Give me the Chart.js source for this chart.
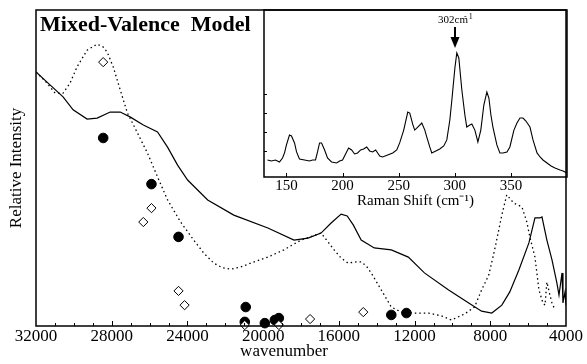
<!DOCTYPE html>
<html>
<head>
<meta charset="utf-8">
<script src="https://cdn.jsdelivr.net/npm/chart.js@4.4.0/dist/chart.umd.min.js"></script>
<style>
html, body { margin: 0; padding: 0; background: #fff; }
#wrap { position: relative; width: 587px; height: 364px; }
#main { position: absolute; left: 0; top: 0; }
#inset { position: absolute; left: 250px; top: 0; }
</style>
</head>
<body>
<div id="wrap">
  <canvas id="main" width="587" height="364"></canvas>
  <canvas id="inset" width="337" height="210"></canvas>
</div>
<script>
// main spectrum: solid (experimental) and dotted (calculated) curves
let solidWave = [32000, 31260, 30570, 30040, 29300, 28770, 28080, 27550, 27010, 26330, 25580, 25050, 24520, 23990,
    22930, 21550, 19750, 18370, 17630, 16940, 16410, 15880, 15560, 15240, 14820, 14130, 13230, 12330, 11480,
    10200, 9140, 8460, 7920, 7390, 6970, 6490, 5960, 5640, 5380, 5270, 5010, 4740, 4480, 4370, 4210, 4160, 4050, 4000];
let solidInt = [80.4, 76.3, 72.5, 68.4, 65.5, 65.8, 67.7, 67.7, 66.1, 63.6, 61.4, 56.6, 50.9, 46.2,
    39.9, 35.1, 31.0, 27.2, 27.8, 29.4, 32.6, 35.4, 34.8, 32.0, 27.2, 24.7, 24.1, 21.8, 16.8,
    11.4, 7.3, 4.7, 4.1, 6.6, 10.8, 17.7, 26.3, 34.2, 34.2, 34.5, 27.2, 20.9, 13.6, 9.8, 16.8, 7.3, 10.8, 6.6];

let dotWave = [32000, 31420, 30990, 30570, 30200, 29830, 29300, 28770, 28450, 28240, 27920, 27550, 27170, 26640,
    26110, 25580, 25050, 24360, 23670, 23140, 22610, 22140, 21710, 21180, 20650, 19750, 18900, 18000, 16940,
    16570, 16250, 15880, 15510, 15080, 14820, 14550, 14290, 13760, 13230, 12700, 12010, 11270, 10580, 10050,
    9360, 8830, 8460, 8080, 7770, 7390, 7130, 6760, 6330, 6070, 5910, 5640, 5430, 5220, 5110, 5010, 4850, 4740, 4580];
let dotInt = [80.4, 76.9, 73.7, 73.7, 76.9, 82.0, 87.3, 89.2, 88.3, 86.7, 82.0, 74.7, 67.4, 61.1,
    54.7, 47.2, 39.9, 32.9, 27.2, 23.1, 19.9, 18.4, 18.0, 18.7, 19.9, 21.8, 24.1, 27.2, 29.4,
    26.6, 24.1, 21.5, 19.9, 20.3, 20.3, 19.0, 16.8, 11.4, 6.0, 4.4, 4.1, 4.1, 3.2, 1.9,
    3.8, 6.0, 11.4, 16.1, 24.1, 35.1, 41.5, 38.9, 37.7, 32.9, 28.2, 21.8, 11.4, 7.3, 6.6, 13.9, 9.8, 7.3, 5.1];

// filled circles and open diamonds
let fillWave = [28450, 25900, 24470, 20920, 20970, 19910, 19380, 19170, 13230, 12430];
let fillInt = [59.5, 44.9, 28.2, 6.0, 1.3, 0.9, 1.9, 2.5, 3.5, 4.1];
let openWave = [28450, 25900, 26330, 24470, 24150, 20970, 19170, 17520, 14710];
let openInt = [83.5, 37.3, 32.9, 11.1, 6.6, 0.3, 0.3, 2.2, 4.4];

let waveTicks = [32000, 28000, 24000, 20000, 16000, 12000, 8000, 4000];

// inset: Raman spectrum
let ramanShift = [133.1, 136.6, 140.2, 143.8, 146.5, 148.3, 150.0, 152.7, 154.5, 157.2, 159.0, 161.6, 166.1, 170.6,
    173.3, 175.9, 177.7, 179.5, 181.3, 184.0, 186.6, 190.2, 194.7, 197.4, 200.0, 202.7, 205.4, 208.1, 210.7,
    213.4, 216.1, 218.8, 221.5, 224.1, 226.8, 229.5, 233.1, 235.7, 240.2, 244.7, 248.3, 250.9, 254.5, 258.1,
    259.9, 262.5, 264.3, 267.0, 270.6, 273.3, 275.0, 277.7, 279.5, 283.1, 286.6, 290.2, 292.9, 295.6, 297.4,
    300.1, 301.8, 303.6, 306.3, 309.0, 310.7, 313.4, 315.2, 317.9, 320.6, 323.2, 325.9, 328.6, 330.4, 332.2,
    334.0, 337.5, 340.2, 342.9, 346.5, 349.1, 352.7, 355.4, 358.1, 360.8, 363.4, 367.0, 369.7, 373.3, 376.0,
    378.6, 382.2, 385.8, 389.3, 393.8, 396.5, 400.0];
let ramanInt = [10.2, 9.6, 10.2, 9.0, 11.4, 14.4, 19.2, 25.1, 24.6, 20.4, 15.0, 10.8, 10.2, 9.6,
    10.2, 10.2, 15.0, 20.4, 20.4, 16.2, 11.4, 9.0, 8.4, 9.6, 10.2, 13.8, 17.4, 16.2, 13.8,
    14.4, 16.2, 16.8, 18.0, 15.6, 15.0, 16.2, 12.6, 12.0, 13.2, 14.4, 16.2, 20.4, 28.1, 38.9,
    38.3, 31.7, 28.1, 29.9, 32.3, 28.1, 24.0, 18.0, 14.4, 15.6, 16.8, 18.6, 22.2, 34.1, 46.1,
    65.3, 74.3, 71.3, 52.1, 37.1, 29.9, 31.1, 31.7, 28.1, 21.0, 28.1, 43.1, 50.9, 47.3, 37.1,
    29.9, 19.2, 14.4, 14.4, 15.0, 18.0, 28.1, 32.3, 35.3, 35.3, 33.5, 29.9, 22.2, 14.4, 12.0,
    10.2, 8.4, 6.6, 5.4, 4.2, 3.6, 2.4];
let ramanTicks = [150, 200, 250, 300, 350];
let ramanYTicks = [15.6, 27, 38.3, 49.7];
let peakShift = 302;

const serif = "'Liberation Serif', 'Times New Roman', serif";

function pts(xs, ys) {
    return xs.map((x, i) => ({x: x, y: ys[i]}));
}

// box around the plot, inward ticks and the free texts
const mainDecor = {
    id: 'mainDecor',
    afterDraw(chart) {
        const ctx = chart.ctx, a = chart.chartArea, xs = chart.scales.x;
        ctx.save();
        ctx.strokeStyle = '#000';
        ctx.lineWidth = 1.5;
        ctx.strokeRect(a.left, a.top, a.right - a.left, a.bottom - a.top);
        ctx.lineWidth = 1;
        for (let w = 5000; w < 32000; w += 1000) {
            let px = Math.round(xs.getPixelForValue(w)) + 0.5;
            let len = (w % 4000 === 0) ? 5 : 3;
            ctx.beginPath();
            ctx.moveTo(px, a.bottom);
            ctx.lineTo(px, a.bottom - len);
            ctx.stroke();
        }
        ctx.fillStyle = '#000';
        ctx.font = "bold 22px " + serif;
        ctx.textAlign = 'left';
        ctx.textBaseline = 'alphabetic';
        ctx.fillText('Mixed-Valence  Model', a.left + 4, a.top + 21);
        ctx.font = "17px " + serif;
        ctx.textAlign = 'center';
        ctx.fillText('wavenumber', (a.left + a.right) / 2 - 17, 356);
        ctx.restore();
    }
};

const insetDecor = {
    id: 'insetDecor',
    afterDraw(chart) {
        const ctx = chart.ctx, a = chart.chartArea, xs = chart.scales.x, ys = chart.scales.y;
        ctx.save();
        ctx.strokeStyle = '#000';
        ctx.lineWidth = 1.5;
        ctx.strokeRect(a.left, a.top, a.right - a.left, a.bottom - a.top);
        ctx.lineWidth = 1;
        ramanTicks.forEach(v => {
            let px = Math.round(xs.getPixelForValue(v)) + 0.5;
            ctx.beginPath();
            ctx.moveTo(px, a.bottom);
            ctx.lineTo(px, a.bottom - 4);
            ctx.stroke();
        });
        ramanYTicks.forEach(v => {
            let py = Math.round(ys.getPixelForValue(v)) + 0.5;
            ctx.beginPath();
            ctx.moveTo(a.left, py);
            ctx.lineTo(a.left + 3, py);
            ctx.stroke();
        });
        // arrow pointing at the 302 cm-1 band
        let px = xs.getPixelForValue(peakShift) - 2;
        ctx.lineWidth = 2;
        ctx.beginPath();
        ctx.moveTo(px, a.top + 17);
        ctx.lineTo(px, a.top + 28);
        ctx.stroke();
        ctx.fillStyle = '#000';
        ctx.beginPath();
        ctx.moveTo(px - 4.5, a.top + 27);
        ctx.lineTo(px + 4.5, a.top + 27);
        ctx.lineTo(px, a.top + 38);
        ctx.closePath();
        ctx.fill();
        ctx.font = "11px " + serif;
        ctx.textAlign = 'left';
        ctx.textBaseline = 'alphabetic';
        ctx.fillText('302cm', px - 17, a.top + 13);
        ctx.font = "8px " + serif;
        ctx.fillText('- 1', px + 9, a.top + 9);
        ctx.restore();
    }
};

new Chart(document.getElementById('main'), {
    type: 'scatter',
    data: {
        datasets: [{
            type: 'line',
            data: pts(solidWave, solidInt),
            borderColor: '#000',
            borderWidth: 1.2,
            pointRadius: 0,
            fill: false,
            tension: 0,
            order: 2,
        }, {
            type: 'line',
            data: pts(dotWave, dotInt),
            borderColor: '#000',
            borderWidth: 1.3,
            borderDash: [1.5, 3],
            pointRadius: 0,
            fill: false,
            tension: 0,
            order: 2,
        }, {
            data: pts(fillWave, fillInt),
            pointStyle: 'circle',
            pointRadius: 4.8,
            backgroundColor: '#000',
            borderColor: '#000',
            borderWidth: 1,
            clip: false,
            order: 1,
        }, {
            data: pts(openWave, openInt),
            pointStyle: 'rectRot',
            pointRadius: 4.6,
            backgroundColor: '#fff',
            borderColor: '#000',
            borderWidth: 1,
            clip: false,
            order: 0,
        }]
    },
    options: {
        responsive: false,
        animation: false,
        layout: { padding: { left: 0, right: 21, top: 10, bottom: 0 } },
        plugins: { legend: { display: false }, tooltip: { enabled: false } },
        scales: {
            x: {
                type: 'linear',
                reverse: true,
                min: 4000,
                max: 32000,
                afterBuildTicks: s => { s.ticks = waveTicks.map(v => ({ value: v })); },
                afterFit: s => { s.height = 38; },
                grid: { display: false, drawTicks: false },
                border: { display: false },
                ticks: {
                    font: { family: serif, size: 17 }, color: '#000', padding: 0, maxRotation: 0, autoSkip: false,
                    callback: v => String(v),
                },
            },
            y: {
                min: 0,
                max: 100,
                afterFit: s => { s.width = 36; },
                grid: { display: false, drawTicks: false },
                border: { display: false },
                ticks: { display: false },
                title: {
                    display: true,
                    text: 'Relative Intensity',
                    font: { family: serif, size: 17 },
                    color: '#000',
                    padding: { top: 6, bottom: 0 },
                },
            },
        },
    },
    plugins: [mainDecor],
});

new Chart(document.getElementById('inset'), {
    type: 'line',
    data: {
        datasets: [{
            data: pts(ramanShift, ramanInt),
            borderColor: '#000',
            borderWidth: 1.1,
            pointRadius: 0,
            tension: 0,
        }]
    },
    options: {
        responsive: false,
        animation: false,
        layout: { padding: { left: 0, right: 20, top: 10, bottom: 0 } },
        plugins: { legend: { display: false }, tooltip: { enabled: false } },
        scales: {
            x: {
                type: 'linear',
                min: 130,
                max: 400,
                afterBuildTicks: s => { s.ticks = ramanTicks.map(v => ({ value: v })); },
                afterFit: s => { s.height = 33; },
                grid: { display: false, drawTicks: false },
                border: { display: false },
                ticks: {
                    font: { family: serif, size: 15 }, color: '#000', padding: 0, maxRotation: 0, autoSkip: false,
                    callback: v => String(v),
                },
                title: {
                    display: true,
                    text: 'Raman Shift (cm⁻¹)',
                    font: { family: serif, size: 15 },
                    color: '#000',
                    padding: 0,
                },
            },
            y: {
                min: 0,
                max: 100,
                afterFit: s => { s.width = 14; },
                grid: { display: false, drawTicks: false },
                border: { display: false },
                ticks: { display: false },
            },
        },
    },
    plugins: [insetDecor],
});
</script>
</body>
</html>
